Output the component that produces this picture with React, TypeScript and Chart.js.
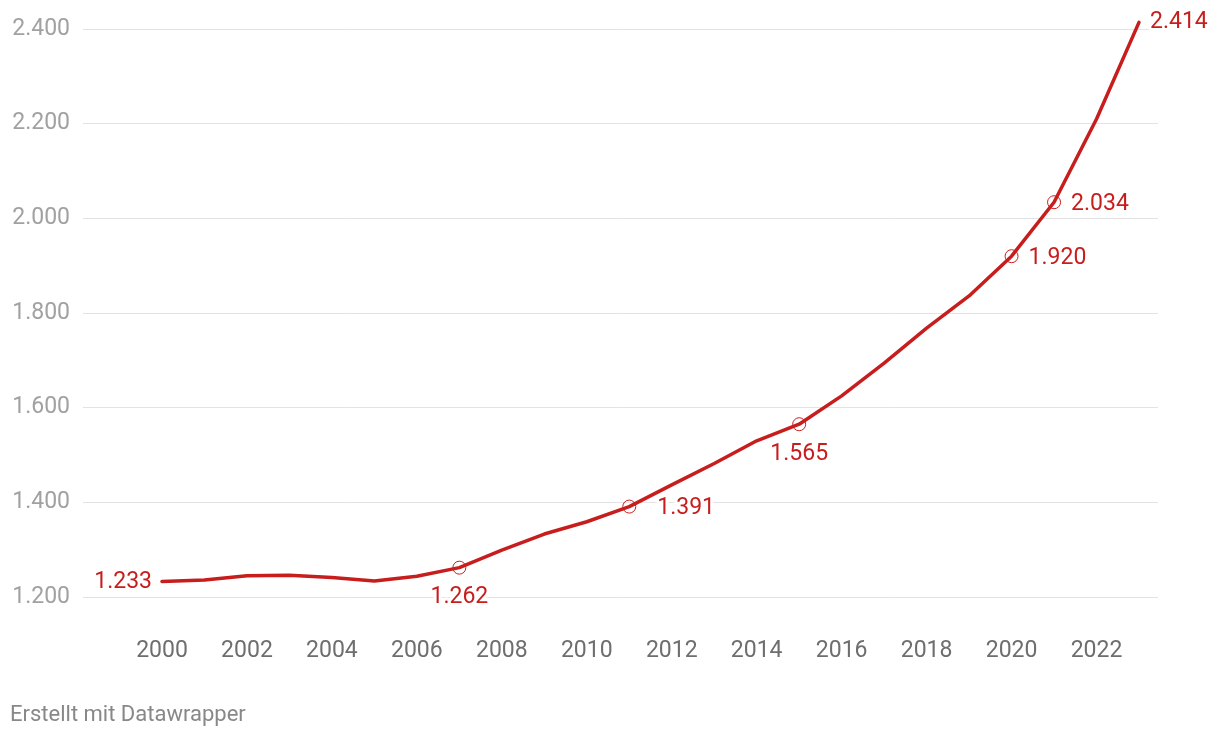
import React, { useEffect, useRef } from "react";
import { Chart, registerables } from "chart.js";

Chart.register(...registerables);

const years = [2000, 2001, 2002, 2003, 2004, 2005, 2006, 2007, 2008, 2009, 2010, 2011, 2012, 2013, 2014, 2015, 2016, 2017, 2018, 2019, 2020, 2021, 2022, 2023];
const values = [1233, 1236, 1245, 1246, 1241, 1234, 1244, 1262, 1299, 1333, 1359, 1391, 1437, 1482, 1530, 1565, 1625, 1694, 1768, 1836, 1920, 2034, 2210, 2414];
const yTicks = [1200, 1400, 1600, 1800, 2000, 2200, 2400];
const xTicks = [2000, 2002, 2004, 2006, 2008, 2010, 2012, 2014, 2016, 2018, 2020, 2022];
const markerYears = [2007, 2011, 2015, 2020, 2021];
const footerText = "Erstellt mit Datawrapper";

// label placement (style only)
const valueLabels = [
  { year: 2000, align: "right", dx: -10, dy: 1 },
  { year: 2007, align: "center", dx: 0, dy: 30 },
  { year: 2011, align: "left", dx: 28, dy: 2 },
  { year: 2015, align: "center", dx: 0, dy: 30 },
  { year: 2020, align: "left", dx: 17, dy: 2 },
  { year: 2021, align: "left", dx: 17, dy: 2 },
  { year: 2023, align: "left", dx: 11, dy: 0 },
];

const RED = "#c71e1d";
const FONT = "Roboto, 'Noto Sans', sans-serif";
const FS = 23;

const fmt = (n: number) => String(Math.round(n)).replace(/\B(?=(\d{3})+(?!\d))/g, ".");

const labelPlugin = {
  id: "valueLabels",
  afterDatasetsDraw(chart: any) {
    const meta = chart.getDatasetMeta(0);
    const ctx = chart.ctx;
    ctx.save();
    ctx.font = `${FS}px ${FONT}`;
    ctx.textBaseline = "middle";
    for (const l of valueLabels) {
      const i = years.indexOf(l.year);
      const pt = meta.data[i];
      if (!pt) continue;
      const txt = fmt(values[i]);
      ctx.textAlign = l.align;
      ctx.lineJoin = "round";
      ctx.strokeStyle = "#ffffff";
      ctx.lineWidth = 6;
      ctx.strokeText(txt, pt.x + l.dx, pt.y + l.dy);
      ctx.fillStyle = RED;
      ctx.fillText(txt, pt.x + l.dx, pt.y + l.dy);
    }
    ctx.restore();
  },
};

export default function App() {
  const ref = useRef<HTMLCanvasElement | null>(null);

  useEffect(() => {
    if (!ref.current) return;
    const pxPerYear = (1139 - 162) / 23;
    const xMin = 2000 - (162 - 83) / pxPerYear;
    const xMax = xMin + (1158 - 83) / pxPerYear;

    const chart = new Chart(ref.current, {
      type: "line",
      data: {
        datasets: [
          {
            data: years.map((y, i) => ({ x: y, y: values[i] })),
            borderColor: RED,
            borderWidth: 3.5,
            borderCapStyle: "round",
            borderJoinStyle: "round",
            tension: 0,
            clip: false,
            pointRadius: years.map((y) => (markerYears.includes(y) ? 6.5 : 0)),
            pointHoverRadius: 0,
            pointBorderWidth: 1,
            pointBorderColor: RED,
            pointBackgroundColor: "rgba(0,0,0,0)",
          },
        ],
      },
      options: {
        animation: false,
        responsive: false,
        devicePixelRatio: 1,
        layout: { padding: { top: 29, right: 62, bottom: 0, left: 0 } },
        plugins: { legend: { display: false }, tooltip: { enabled: false } },
        scales: {
          x: {
            type: "linear",
            min: xMin,
            max: xMax,
            grid: { display: false, drawTicks: false },
            border: { display: false },
            afterBuildTicks: (scale: any) => {
              scale.ticks = xTicks.map((v) => ({ value: v }));
            },
            afterFit: (scale: any) => {
              scale.height = 141;
            },
            ticks: {
              autoSkip: false,
              maxRotation: 0,
              padding: 40,
              color: "#6e6e6e",
              font: { family: FONT, size: FS },
              callback: (v: any) => String(v),
            },
          },
          y: {
            min: 1200,
            max: 2400,
            grid: { color: "#e3e3e3", lineWidth: 1, drawTicks: false },
            border: { display: false },
            afterBuildTicks: (scale: any) => {
              scale.ticks = yTicks.map((v) => ({ value: v }));
            },
            afterFit: (scale: any) => {
              scale.width = 83;
            },
            ticks: {
              padding: 13,
              color: "#a1a1a1",
              font: { family: FONT, size: FS },
              callback: (v: any) => fmt(Number(v)),
            },
          },
        },
      },
      plugins: [labelPlugin],
    } as any);
    return () => chart.destroy();
  }, []);

  return (
    <div style={{ position: "absolute", left: 0, top: 0, width: 1220, height: 738, background: "#fff" }}>
      <canvas ref={ref} width={1220} height={738} style={{ display: "block" }} />
      <div
        style={{
          position: "absolute",
          left: 10,
          top: 703,
          fontFamily: FONT,
          fontSize: 22,
          lineHeight: "22px",
          color: "#888888",
          whiteSpace: "nowrap",
        }}
      >
        {footerText}
      </div>
    </div>
  );
}
